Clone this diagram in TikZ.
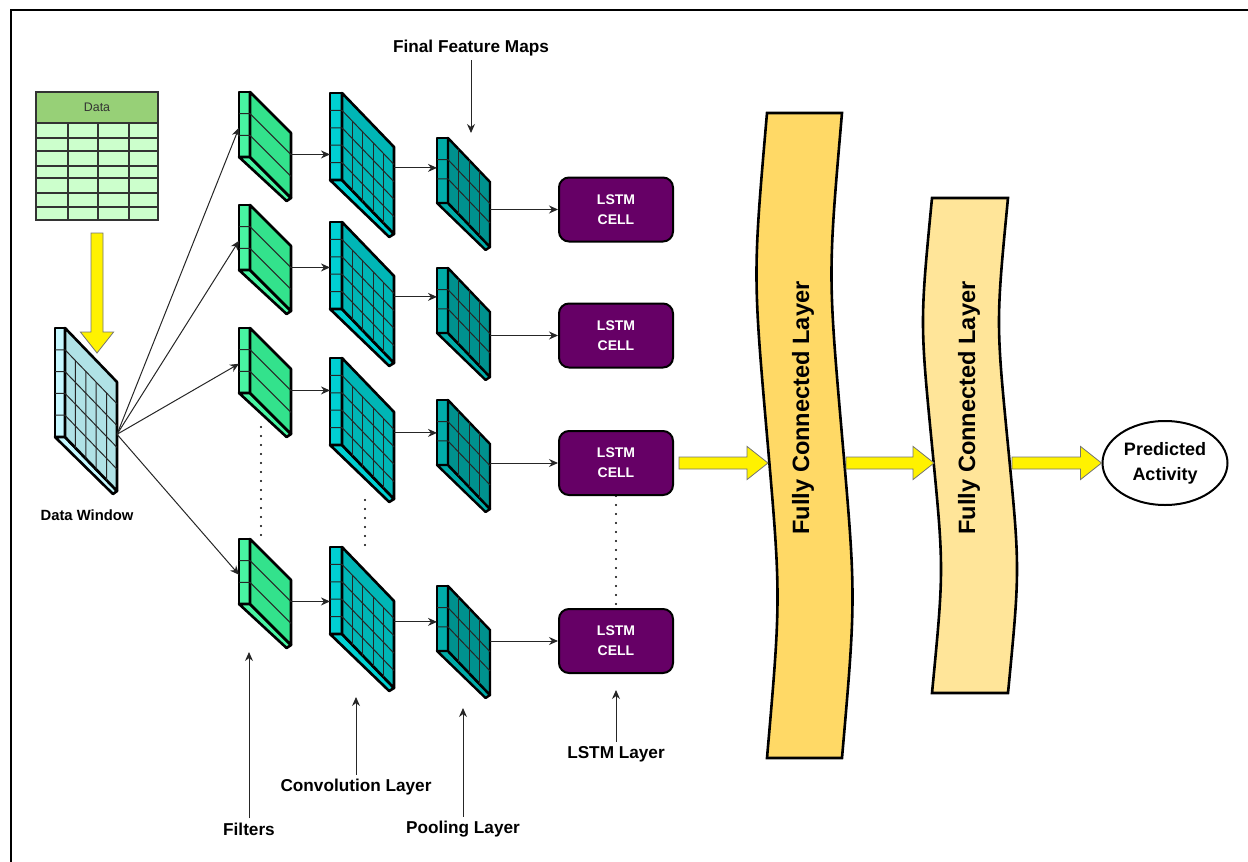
\documentclass[tikz,border=0pt]{standalone}
\usepackage{fontspec}
\setmainfont{Liberation Sans}
\usetikzlibrary{calc,arrows.meta,shapes.geometric}

\definecolor{filtface}{HTML}{33E28C}
\definecolor{filtside}{HTML}{48F4A2}
\definecolor{convface}{HTML}{00B6B6}
\definecolor{convside}{HTML}{00D0D2}
\definecolor{poolface}{HTML}{00918E}
\definecolor{poolside}{HTML}{00ABA8}
\definecolor{winface}{HTML}{B0E2E6}
\definecolor{winside}{HTML}{C6F8FF}
\definecolor{lstmfill}{HTML}{660066}
\definecolor{fcone}{HTML}{FFD966}
\definecolor{fctwo}{HTML}{FFE599}
\definecolor{headgreen}{HTML}{97D077}
\definecolor{cellgreen}{HTML}{CCFFCC}

% slab: name, x, y, strip, face width, height, drop, kind
\newcommand{\slab}[8]{%
  \coordinate (#1-s) at (#2,#3);
  \coordinate (#1-t) at (#2,#3+#6);
  \coordinate (#1-a) at (#2+#4,#3);
  \coordinate (#1-b) at (#2+#4+#5,#3+#7);
  \coordinate (#1-c) at (#2+#4+#5,#3+#7+#6);
  \coordinate (#1-d) at (#2+#4,#3+#6);
  \coordinate (#1-e) at (#2+#5+0.6*#4,#3+#7+#6+3);
  \filldraw[#8 side] (#1-s) -- (#1-a) -- (#1-d) -- (#1-t) -- cycle;
  \filldraw[#8 side] (#1-t) -- (#1-d) -- (#1-c) -- (#1-e) -- cycle;
  \filldraw[#8 face] (#1-a) -- (#1-b) -- (#1-c) -- (#1-d) -- cycle;
}
\newcommand{\slabrows}[2]{%
  \foreach \v in {#2}
    \draw[gridline] ($(#1-s)!\v!(#1-t)$) -- ($(#1-a)!\v!(#1-d)$) -- ($(#1-b)!\v!(#1-c)$);
}
\newcommand{\slabcols}[3]{%
  \coordinate (#1-p) at ($(#1-a)!#3!(#1-d)$);
  \coordinate (#1-q) at ($(#1-b)!#3!(#1-c)$);
  \foreach \u in {#2}
    \draw[gridline] ($(#1-p)!\u!(#1-q)$) -- ($(#1-d)!\u!(#1-c)$);
}
\newcommand{\fatarrow}[2]{%
  \coordinate (hb) at ($(#2)!10.5pt!(#1)$);
  \filldraw[fat] ($(#1)!3pt!90:(#2)$) -- ($(hb)!3pt!90:(#2)$) -- ($(hb)!8.3pt!90:(#2)$) -- (#2)
    -- ($(hb)!8.3pt!-90:(#2)$) -- ($(hb)!3pt!-90:(#2)$) -- ($(#1)!3pt!-90:(#2)$) -- cycle;
}

\tikzset{
  filter face/.style={fill=filtface, draw=black, line width=1.3pt, line join=round},
  filter side/.style={fill=filtside, draw=black, line width=1.3pt, line join=round},
  conv face/.style={fill=convface, draw=black, line width=1.3pt, line join=round},
  conv side/.style={fill=convside, draw=black, line width=1.3pt, line join=round},
  pool face/.style={fill=poolface, draw=black, line width=1.2pt, line join=round},
  pool side/.style={fill=poolside, draw=black, line width=1.2pt, line join=round},
  win face/.style={fill=winface, draw=black, line width=1.3pt, line join=round},
  win side/.style={fill=winside, draw=black, line width=1.3pt, line join=round},
  gridline/.style={draw=black!85, line width=0.5pt},
  link/.style={draw=black!85, line width=0.5pt, -{Stealth[length=4.5pt,width=4pt]}},
  fat/.style={fill=yellow, draw=black!55, line width=0.4pt, line join=miter},
  lstm/.style={fill=lstmfill, draw=black, line width=1pt, rounded corners=5pt,
    minimum width=57pt, minimum height=32pt, inner sep=0pt, align=center,
    text=white, font=\fontsize{7}{10}\selectfont\bfseries},
  layername/.style={font=\fontsize{8.6}{10}\selectfont\bfseries, inner sep=2pt},
  fcband/.style={draw=black, line width=1.3pt, line join=miter},
  fctext/.style={rotate=90, font=\fontsize{11.8}{14}\selectfont\bfseries},
  sep/.style={line width=1.1pt, line cap=round, dash pattern=on 0pt off 4.5pt},
  cellline/.style={draw=black!80, line width=0.6pt}
}

\begin{document}
\begin{tikzpicture}[x=0.5pt, y=-0.5pt]
\useasboundingbox (0,0) rectangle (1248,862);
\draw[line width=1pt] (11,862) -- (11,10) -- (1248,10);

% data table
\node[fill=headgreen, draw=black!80, line width=0.6pt, minimum width=61pt, minimum height=15.5pt,
  inner sep=0pt, font=\fontsize{6.2}{7}\selectfont, text=black!80] (datahead) at (97,107.5) {Data};
\node[fill=cellgreen, draw=black!80, line width=0.6pt, minimum width=61pt, minimum height=48.5pt,
  inner sep=0pt] (databody) at (97,171.5) {};
\foreach \y in {138,151,166,178,193,207}
  \draw[cellline] (36,\y) -- (158,\y);
\foreach \x in {68,98,129}
  \draw[cellline] (\x,123) -- (\x,220);

% data window
\slab{win}{55}{328}{10}{52}{109}{54}{win}
\slabrows{win}{0.2,0.4,0.6,0.8}
\slabcols{win}{0.2,0.4,0.6,0.8}{0.2}
\node[layername, font=\fontsize{7.4}{9}\selectfont\bfseries] (winname) at (87,515) {Data Window};

\coordinate (datafoot) at (97,233);
\coordinate (wintop) at (97,353);
\fatarrow{datafoot}{wintop}

% filters, convolution, pooling
\foreach \i/\y in {1/92,2/205,3/328,4/539} {
  \slab{f\i}{239}{\y}{11}{41}{65}{41}{filter}
  \slabrows{f\i}{0.333,0.667}
}
\foreach \i/\y in {1/93,2/222,3/358,4/547} {
  \slab{c\i}{330}{\y}{12}{52}{87}{54}{conv}
  \slabrows{c\i}{0.2,0.4,0.6,0.8}
  \slabcols{c\i}{0.2,0.4,0.6,0.8}{0.2}
}
\foreach \i/\y in {1/138,2/268,3/400,4/586} {
  \slab{p\i}{437}{\y}{11}{42}{65}{44}{pool}
  \slabrows{p\i}{0.333,0.63}
  \slabcols{p\i}{0.25,0.5,0.75}{0}
}

% lstm cells
\node[lstm] (l1) at (616,209.5) {LSTM\\CELL};
\node[lstm] (l2) at (616,335.5) {LSTM\\CELL};
\node[lstm] (l3) at (616,463) {LSTM\\CELL};
\node[lstm] (l4) at (616,641) {LSTM\\CELL};

% connectors
\coordinate (win-o) at ($(win-b)!0.48!(win-c)$);
\foreach \i in {1,...,4} {
  \coordinate (f\i-i) at ($(f\i-s)!0.55!(f\i-t)$);
  \coordinate (f\i-o) at ($(f\i-b)!0.33!(f\i-c)$);
  \coordinate (c\i-o) at ($(c\i-b)!0.24!(c\i-c)$);
  \draw[link] (win-o) -- (f\i-i);
  \draw[link] (f\i-o) -- (f\i-o -| c\i-s);
  \draw[link] (c\i-o) -- (c\i-o -| p\i-s);
  \draw[link] (p\i-b |- l\i.west) -- (l\i.west);
}

\draw[sep] ($(f3-d)+(11,34)$) -- ($(f4-a)+(11,-2)$);
\draw[sep] ($(c3-d)+(23,55)$) -- ($(c4-a)+(23,3)$);
\draw[sep] (l3.south) -- (l4.south |- l4.north);

% fully connected layers
\filldraw[fcband, fill=fcone] (767,113) -- (842,113) .. controls (828,274) .. (842,435.5)
  .. controls (856,597) .. (842,758) -- (767,758) .. controls (781,597) .. (767,435.5)
  .. controls (753,274) .. (767,113) -- cycle;
\node[fctext] (fc1) at (803,408) {Fully Connected Layer};
\filldraw[fcband, fill=fctwo] (932,198) -- (1008,198) .. controls (996,322) .. (1008,445.5)
  .. controls (1020,569) .. (1008,693) -- (932,693) .. controls (944,569) .. (932,445.5)
  .. controls (920,322) .. (932,198) -- cycle;
\node[fctext] (fc2) at (969,408) {Fully Connected Layer};

\node[ellipse, draw=black, line width=1pt, minimum width=62.5pt, minimum height=42pt, inner sep=0pt,
  align=center, font=\fontsize{9}{12.5}\selectfont\bfseries] (pred) at (1165,463) {Predicted\\Activity};

\coordinate (l3-out) at ($(l3.east)+(5,0)$);
\coordinate (fc1-w) at (768,463);
\coordinate (fc1-e) at (846,463);
\coordinate (fc2-w) at (934,463);
\coordinate (fc2-e) at (1012,463);
\fatarrow{l3-out}{fc1-w}
\fatarrow{fc1-e}{fc2-w}
\fatarrow{fc2-e}{pred.west}

% layer names
\node[layername] (ffm) at (471,48) {Final Feature Maps};
\node[layername] (filt) at (249,829) {Filters};
\node[layername] (convl) at (356,787) {Convolution Layer};
\node[layername] (pooll) at (463,829) {Pooling Layer};
\node[layername] (lstml) at (616,754) {LSTM Layer};
\coordinate (ffm-tip) at (471,133);
\coordinate (filt-tip) at (249,652);
\coordinate (convl-tip) at (356,697);
\coordinate (pooll-tip) at (463,708);
\coordinate (lstml-tip) at (616,690);
\foreach \n in {ffm,filt,convl,pooll,lstml}
  \draw[link] (\n) -- (\n-tip);
\end{tikzpicture}
\end{document}
